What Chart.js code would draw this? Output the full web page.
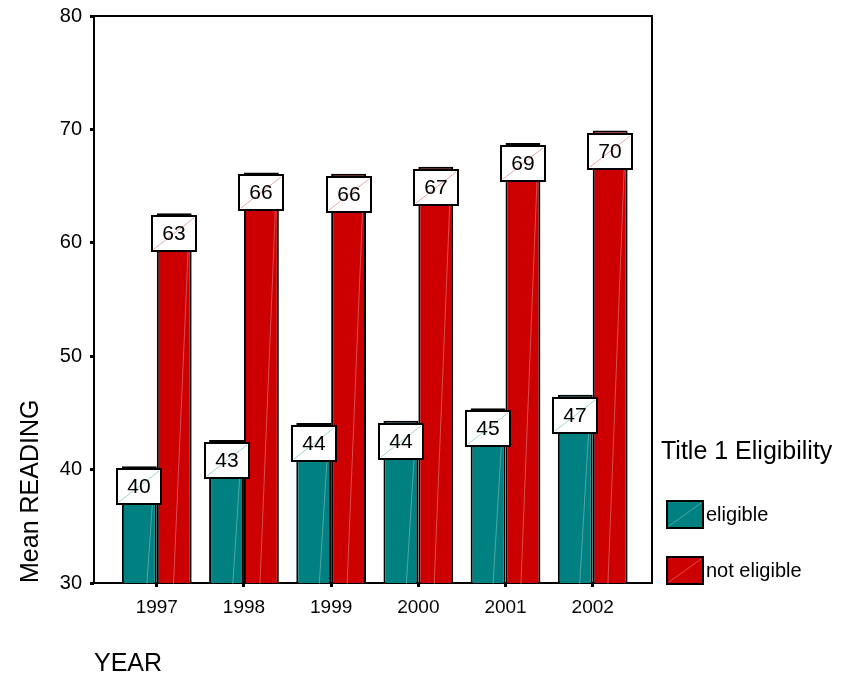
<!DOCTYPE html>
<html>
<head>
<meta charset="utf-8">
<script src="https://cdn.jsdelivr.net/npm/chart.js@4.4.1/dist/chart.umd.min.js"></script>
<style>
  html, body { margin: 0; padding: 0; background: #fff; }
  canvas { display: block; }
</style>
</head>
<body>
<canvas id="c" width="844" height="679"></canvas>
<script>
// Mean reading score by year and Title 1 eligibility
const years = [1997, 1998, 1999, 2000, 2001, 2002];
const eligible = [40.3, 42.6, 44.1, 44.3, 45.4, 46.6];
const notEligible = [62.6, 66.2, 66.1, 66.7, 68.8, 69.9];
const yTicks = [30, 40, 50, 60, 70, 80];
const seriesNames = ['eligible', 'not eligible'];

const TEAL = '#008080';
const RED = '#CC0000';
const FONT = '"Liberation Sans", Arial, Helvetica, sans-serif';

const toPoints = vals => years.map((yr, i) => ({ x: yr, y: vals[i] }));

// Plot frame drawn under the bars
const framePlugin = {
  id: 'frame',
  beforeDatasetsDraw(chart) {
    const { ctx, chartArea: a } = chart;
    ctx.save();
    ctx.strokeStyle = '#000';
    ctx.lineWidth = 2;
    ctx.strokeRect(a.left, a.top, a.right - a.left, a.bottom - a.top);
    ctx.restore();
  }
};

// Faint diagonal streak in each bar, then a boxed value label at each bar top
const barDecorPlugin = {
  id: 'barDecor',
  afterDatasetsDraw(chart) {
    const { ctx } = chart;
    ctx.save();
    chart.data.datasets.forEach((ds, di) => {
      chart.getDatasetMeta(di).data.forEach(bar => {
        const half = bar.width / 2;
        ctx.beginPath();
        ctx.moveTo(bar.x - half + 2, bar.base - 1);
        ctx.lineTo(bar.x + half - 2, bar.y + 2);
        ctx.strokeStyle = 'rgba(255,255,255,0.3)';
        ctx.lineWidth = 1;
        ctx.stroke();
      });
    });
    chart.data.datasets.forEach((ds, di) => {
      chart.getDatasetMeta(di).data.forEach((bar, i) => {
        const v = ds.data[i].y;
        const w = 44, h = 35;
        const x0 = Math.round(bar.x - w / 2), y0 = Math.round(bar.y + 3);
        ctx.fillStyle = '#fff';
        ctx.fillRect(x0, y0, w, h);
        ctx.beginPath();
        ctx.moveTo(x0 + 2, y0 + h - 2);
        ctx.lineTo(x0 + w - 2, y0 + 2);
        ctx.strokeStyle = di === 0 ? 'rgba(0,128,128,0.35)' : 'rgba(204,0,0,0.35)';
        ctx.lineWidth = 1;
        ctx.stroke();
        ctx.strokeStyle = '#000';
        ctx.lineWidth = 2;
        ctx.strokeRect(x0, y0, w, h);
        ctx.fillStyle = '#000';
        ctx.font = '21px ' + FONT;
        ctx.textAlign = 'center';
        ctx.textBaseline = 'middle';
        ctx.fillText(String(Math.round(v)), x0 + w / 2, y0 + h / 2 + 1);
      });
    });
    ctx.restore();
  }
};

// Legend on the right with its title
const legendPlugin = {
  id: 'sideLegend',
  afterDraw(chart) {
    const { ctx } = chart;
    ctx.save();
    ctx.fillStyle = '#000';
    ctx.textBaseline = 'middle';
    ctx.textAlign = 'left';
    ctx.font = '25px ' + FONT;
    ctx.fillText('Title 1 Eligibility', 661, 452);
    const colors = [TEAL, RED];
    const rows = [514, 570];
    seriesNames.forEach((name, i) => {
      const bx = 667, by = rows[i] - 13, bw = 36, bh = 27;
      ctx.fillStyle = colors[i];
      ctx.fillRect(bx, by, bw, bh);
      ctx.beginPath();
      ctx.moveTo(bx + 2, by + bh - 2);
      ctx.lineTo(bx + bw - 2, by + 2);
      ctx.strokeStyle = 'rgba(255,255,255,0.3)';
      ctx.lineWidth = 1;
      ctx.stroke();
      ctx.strokeStyle = '#000';
      ctx.lineWidth = 2;
      ctx.strokeRect(bx, by, bw, bh);
      ctx.fillStyle = '#000';
      ctx.font = '20px ' + FONT;
      ctx.fillText(name, 706, rows[i] + 1);
    });
    ctx.restore();
  }
};

new Chart(document.getElementById('c'), {
  type: 'bar',
  data: {
    datasets: [
      { label: seriesNames[0], data: toPoints(eligible), backgroundColor: TEAL,
        borderColor: '#000', borderWidth: 2, borderSkipped: false },
      { label: seriesNames[1], data: toPoints(notEligible), backgroundColor: RED,
        borderColor: '#000', borderWidth: 2, borderSkipped: false }
    ]
  },
  options: {
    responsive: false,
    animation: false,
    devicePixelRatio: 1,
    categoryPercentage: 0.8,
    barPercentage: 1.0,
    layout: { padding: { top: 16, right: 192, left: 0, bottom: 0 } },
    plugins: { legend: { display: false }, tooltip: { enabled: false } },
    scales: {
      x: {
        type: 'linear',
        offset: false,
        min: 1996.28,
        max: 2002.68,
        afterBuildTicks: s => { s.ticks = years.map(v => ({ value: v })); },
        afterFit: s => { s.height = 96; s.paddingLeft = 0; s.paddingRight = 0; },
        ticks: {
          autoSkip: false,
          maxRotation: 0,
          color: '#000',
          font: { family: FONT, size: 19 },
          padding: 9,
          callback: v => String(v)
        },
        grid: { offset: false, drawOnChartArea: false, drawTicks: true, tickLength: 4, lineWidth: 3, color: '#000' },
        border: { display: false },
        title: {
          display: true, text: 'YEAR', align: 'start', color: '#000',
          font: { family: FONT, size: 25 }, padding: { top: 0, bottom: 0 }
        }
      },
      y: {
        min: 30,
        max: 80,
        afterBuildTicks: s => { s.ticks = yTicks.map(v => ({ value: v })); },
        afterFit: s => { s.width = 94; s.paddingTop = 0; s.paddingBottom = 0; },
        ticks: { color: '#000', font: { family: FONT, size: 20 }, padding: 8 },
        grid: { drawOnChartArea: false, drawTicks: true, tickLength: 4, lineWidth: 3, color: '#000' },
        border: { display: false },
        title: {
          display: true, text: 'Mean READING', align: 'start', color: '#000',
          font: { family: FONT, size: 25 }, padding: { top: 16, bottom: 0 }
        }
      }
    }
  },
  plugins: [framePlugin, barDecorPlugin, legendPlugin]
});
</script>
</body>
</html>
